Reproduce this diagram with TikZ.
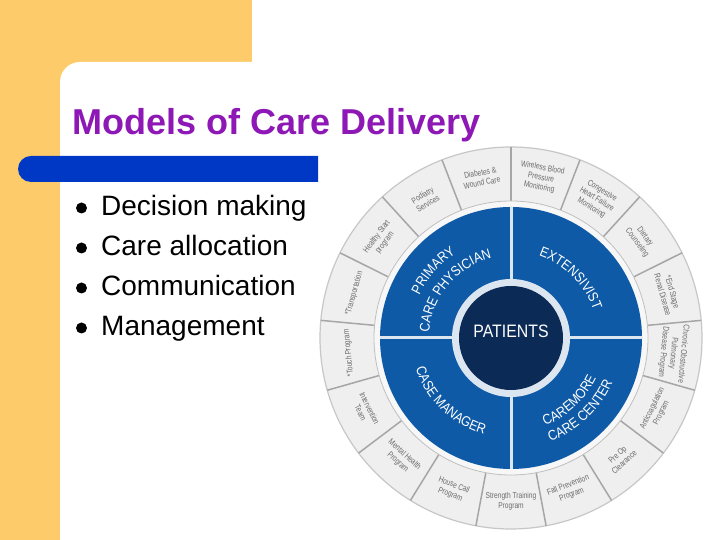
\documentclass[tikz,border=0pt]{standalone}
\usepackage{fontspec}
\setmainfont{Liberation Sans}
\newfontfamily\segfamily[FakeStretch=0.78]{Liberation Sans}
\newfontfamily\quadfamily[FakeStretch=0.88]{Liberation Sans}
\usetikzlibrary{decorations.text}
\definecolor{slideyellow}{HTML}{FECB6A}
\definecolor{titlepurple}{HTML}{8E18B5}
\definecolor{barblue}{HTML}{0038C6}
\definecolor{ringblue}{HTML}{0E5AA7}
\definecolor{navy}{HTML}{0B2A56}
\definecolor{seggray}{HTML}{EFEFEF}
\definecolor{bandgray}{HTML}{F7F7F7}
\definecolor{segline}{HTML}{A6A6A6}
\definecolor{segtext}{HTML}{6B6B6B}
\definecolor{gapblue}{HTML}{DCE6F1}
\newcommand{\qfont}{\quadfamily\fontsize{14}{14}\selectfont\color{white}}
\begin{document}
\begin{tikzpicture}[x=1pt,y=1pt,
  bullettext/.style={anchor=base west, font=\fontsize{28}{30}\selectfont, text=black, inner sep=0},
  bulletdot/.style={circle, fill=black, inner sep=0, minimum size=11},
  seglabel/.style={font=\segfamily\fontsize{8.5}{10}\selectfont, text=segtext, align=center, inner sep=0},
  quadtext/.style={decorate, decoration={text along path, text align=center, text={#1}}}]
\useasboundingbox (0,0) rectangle (720,540);
\clip (0,0) rectangle (720,540);
\fill[white] (0,0) rectangle (720,540);
% slide background
\fill[slideyellow] (0,0) rectangle (252,540);
\fill[white, rounded corners=20] (60,-40) rectangle (780,478);
% title
\node[anchor=base west, font=\bfseries\fontsize{36}{40}\selectfont, text=titlepurple, inner sep=0] (title) at (72,405) {Models of Care Delivery};
% blue bar
\fill[barblue] (31,358) -- (318,358) -- (318,384) -- (31,384) arc[start angle=90, end angle=270, radius=13] -- cycle;
% bullets
\foreach \t [count=\i] in {Decision making, Care allocation, Communication, Management} {
  \node[bulletdot] (dot\i) at (81.5,{332-(\i-1)*40}) {};
  \node[bullettext] (item\i) at (101,{324-(\i-1)*40}) {\t};
}
% wheel
\begin{scope}[shift={(511,202)}]
  \fill[seggray] (0,0) circle[radius=191];
  \draw[black!22, line width=1.2] (0,0) circle[radius=191];
  \foreach \i in {0,...,16}
    \draw[segline, line width=1.5] ({90-\i*360/17}:137) -- ({90-\i*360/17}:191);
  \fill[bandgray] (0,0) circle[radius=137];
  \draw[black!25, line width=0.8] (0,0) circle[radius=137];
  \fill[ringblue] (0,0) circle[radius=131];
  \draw[gapblue, line width=3] (-131,0) -- (131,0);
  \draw[gapblue, line width=3] (0,-131) -- (0,131);
  \fill[gapblue] (0,0) circle[radius=59];
  \fill[navy] (0,0) circle[radius=52];
  \node[font=\quadfamily\fontsize{18}{18}\selectfont, text=white, inner sep=0] (patients) at (0,6.5) {PATIENTS};
  % quadrant labels
  \path[quadtext={|\qfont|PRIMARY}] (179:101) arc[start angle=179, end angle=99, radius=101];
  \path[quadtext={|\qfont|CARE PHYSICIAN}] (184:82) arc[start angle=184, end angle=96, radius=82];
  \path[quadtext={|\qfont|EXTENSIVIST}] (89:87) arc[start angle=89, end angle=1, radius=87];
  \path[quadtext={|\qfont|CASE MANAGER}] (181:100) arc[start angle=181, end angle=271, radius=100];
  \path[quadtext={|\qfont|CAREMORE}] (268:94) arc[start angle=268, end angle=358, radius=94];
  \path[quadtext={|\qfont|CARE CENTER}] (268.5:111) arc[start angle=268.5, end angle=358.5, radius=111];
  % outer segment labels
  \foreach \a/\r/\t [count=\n] in {
    79.41/-10.59/{Wireless Blood\\Pressure\\Monitoring},
    58.24/-31.76/{Congestive\\Heart Failure\\Monitoring},
    37.06/-52.94/{Dietary\\Counseling},
    15.88/-74.12/{*End Stage\\Renal Disease},
    -5.29/-95.29/{Chronic Obstructive\\Pulmonary\\Disease Program},
    -26.47/63.53/{Anticoagulation\\Program},
    -47.65/42.35/{Pre Op\\Clearance},
    -68.82/21.18/{Fall Prevention\\Program},
    -90/0/{Strength Training\\Program},
    -111.18/-21.18/{House Call\\Program},
    -132.35/-42.35/{Mental Health\\Program},
    -153.53/-63.53/{Intervention\\Team},
    185.29/95.29/{*Touch Program},
    164.12/74.12/{*Transportation},
    142.94/52.94/{Healthy Start\\program},
    121.76/31.76/{Podiatry\\Services},
    100.59/10.59/{Diabetes \&\\Wound Care}}
    \node[seglabel, rotate=\r] (seg\n) at (\a:163) {\t};
\end{scope}
\end{tikzpicture}
\end{document}
